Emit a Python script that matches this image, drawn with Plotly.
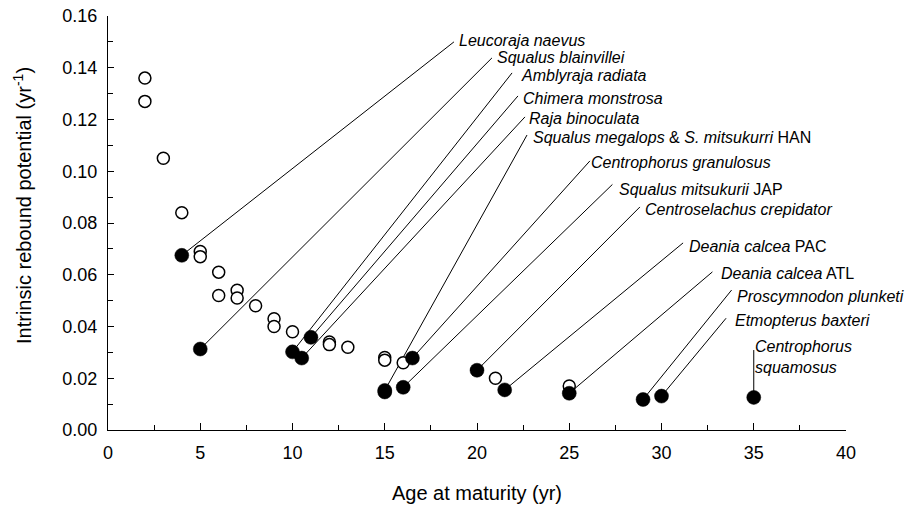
import plotly.graph_objects as go

# ---------------- data ----------------
open_x = [2, 2, 3, 4, 5, 5, 6, 6, 7, 7, 8, 9, 9, 10, 12, 12, 13, 15, 15, 16, 21, 25]
open_y = [0.136, 0.127, 0.105, 0.084, 0.069, 0.067, 0.061, 0.052, 0.054, 0.051, 0.048,
          0.043, 0.040, 0.038, 0.034, 0.033, 0.032, 0.028, 0.027, 0.026, 0.020, 0.017]

fill_x = [4, 5, 10, 10.5, 11, 15, 15, 16, 16.5, 20, 21.5, 25, 29, 30, 35]
fill_y = [0.0675, 0.0313, 0.0302, 0.0278, 0.0358, 0.0153, 0.0147, 0.0165, 0.0278,
          0.0231, 0.0155, 0.0142, 0.0118, 0.0131, 0.0126]
# index of the label that each filled point belongs to
fill_label = [0, 1, 2, 4, 3, 5, 5, 7, 6, 8, 9, 10, 11, 12, 13]

labels = [
    "<i>Leucoraja naevus</i>",
    "<i>Squalus blainvillei</i>",
    "<i>Amblyraja radiata</i>",
    "<i>Chimera monstrosa</i>",
    "<i>Raja binoculata</i>",
    "<i>Squalus megalops</i> & <i>S. mitsukurri</i> HAN",
    "<i>Centrophorus granulosus</i>",
    "<i>Squalus mitsukurii</i> JAP",
    "<i>Centroselachus crepidator</i>",
    "<i>Deania calcea</i> PAC",
    "<i>Deania calcea</i> ATL",
    "<i>Proscymnodon plunketi</i>",
    "<i>Etmopterus baxteri</i>",
    "<i>Centrophorus</i><br><i>squamosus</i>",
]
# leader-line start (near label) and text anchor, in data units
tip_x = [18.75, 20.81, 21.90, 22.22, 22.60, 22.71, 26.12, 27.34, 28.83, 31.17, 32.76, 33.80, 33.50, 35.0]
tip_y = [0.1500, 0.1438, 0.1380, 0.1291, 0.1210, 0.1140, 0.1040, 0.0949, 0.0862, 0.0723, 0.0611, 0.0541, 0.0432, 0.0309]
text_x = [18.90, 21.00, 22.30, 22.40, 22.70, 22.95, 26.08, 27.58, 28.97, 31.37, 33.13, 33.99, 33.85, 34.97]
text_y = [0.1505, 0.1440, 0.1372, 0.1282, 0.1202, 0.1131, 0.1033, 0.0928, 0.0853, 0.0711, 0.0606, 0.0515, 0.0422, 0.0283]

FONT = "Arial, Liberation Sans, sans-serif"

fig = go.Figure()

# leader lines (one per label, to its first point)
lx, ly = [], []
done = set()
for px, py, li in zip(fill_x, fill_y, fill_label):
    if li in done:
        continue
    done.add(li)
    lx += [tip_x[li], px, None]
    ly += [tip_y[li], py, None]
fig.add_trace(go.Scatter(x=lx, y=ly, mode="lines", line=dict(color="black", width=1),
                         showlegend=False, hoverinfo="skip"))

# open circles
fig.add_trace(go.Scatter(x=open_x, y=open_y, mode="markers",
                         marker=dict(symbol="circle", size=12, color="white",
                                     line=dict(color="black", width=1.5)),
                         showlegend=False))
# filled circles
fig.add_trace(go.Scatter(x=fill_x, y=fill_y, mode="markers",
                         marker=dict(symbol="circle", size=14, color="black",
                                     line=dict(color="black", width=0.5)),
                         showlegend=False))

for t, x, y in zip(labels, text_x, text_y):
    fig.add_annotation(x=x, y=y, xref="x", yref="y", text=t, showarrow=False,
                       xanchor="left", yanchor="middle", align="left",
                       font=dict(family=FONT, size=16, color="black"))

fig.add_annotation(x=-0.1152, y=0.5435, xref="paper", yref="paper",
                   text="Intrinsic rebound potential (yr<sup>-1</sup>)",
                   textangle=-90, showarrow=False, xanchor="center", yanchor="middle",
                   font=dict(family=FONT, size=20, color="black"))

fig.update_layout(
    width=923, height=510,
    margin=dict(l=108, r=77, t=16, b=80, autoexpand=False),
    paper_bgcolor="white", plot_bgcolor="white",
    font=dict(family=FONT, color="black"),
    xaxis=dict(range=[0, 40], tickmode="linear", tick0=0, dtick=5, automargin=False,
               ticks="inside", ticklen=7, tickwidth=1, tickcolor="black",
               minor=dict(ticks="inside", dtick=2.5, ticklen=4.5, tickcolor="black", tickwidth=1),
               showline=True, linecolor="black", linewidth=1.3,
               showgrid=False, zeroline=False, ticklabeloverflow="allow",
               tickfont=dict(family=FONT, size=18), ticklabelstandoff=6,
               title=dict(text="Age at maturity (yr)", font=dict(family=FONT, size=20), standoff=24)),
    yaxis=dict(range=[0, 0.16], tickmode="linear", tick0=0, dtick=0.02, tickformat=".2f",
               automargin=False, ticklabeloverflow="allow",
               ticks="inside", ticklen=6, tickwidth=1, tickcolor="black",
               minor=dict(ticks="inside", dtick=0.01, ticklen=5, tickcolor="black", tickwidth=1),
               showline=True, linecolor="black", linewidth=1.3,
               showgrid=False, zeroline=False,
               tickfont=dict(family=FONT, size=18), ticklabelstandoff=6),
)

# remove the browser's default 8 px body margin so the figure sits at the page corner
fig.write_html("out.html", config={"displayModeBar": False},
               post_script="document.body.style.margin='0';")
